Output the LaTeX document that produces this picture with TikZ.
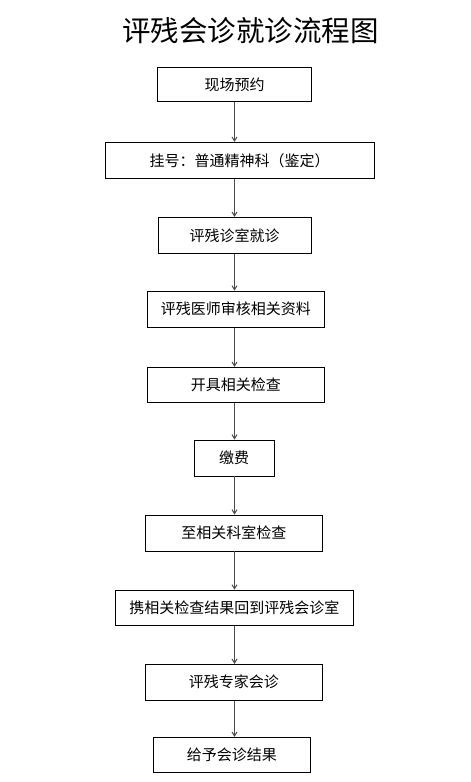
\documentclass[tikz,border=0pt]{standalone}
\usepackage{fontspec}
\newfontfamily\cjk{Noto Sans CJK SC}
\usetikzlibrary{arrows.meta}
\begin{document}
\begin{tikzpicture}[x=1pt,y=-1pt,
  box/.style={draw=black, line width=0.9pt, fill=white, inner sep=0pt, font=\cjk\fontsize{15}{17}\selectfont},
  flow/.style={draw=black!70, line width=1pt, -{Straight Barb[length=4pt,width=5pt]}}]
\useasboundingbox[fill=white] (0,0) rectangle (471,782);
\node[font=\cjk\fontsize{28.5}{31}\selectfont] (title) at (250.5,31) {评残会诊就诊流程图};
\node[box, minimum width=154pt, minimum height=34.5pt] (n1) at (234.5,84.5) {现场预约};
\node[box, minimum width=269pt, minimum height=36pt] (n2) at (239.5,160.3) {挂号：普通精神科（鉴定）};
\node[box, minimum width=153pt, minimum height=36pt] (n3) at (234.5,235.3) {评残诊室就诊};
\node[box, minimum width=177pt, minimum height=36.3pt] (n4) at (235.8,309.2) {评残医师审核相关资料};
\node[box, minimum width=177pt, minimum height=35pt] (n5) at (235.8,384.8) {开具相关检查};
\node[box, minimum width=80.3pt, minimum height=36pt] (n6) at (234.2,458) {缴费};
\node[box, minimum width=177pt, minimum height=36pt] (n7) at (233.8,533) {至相关科室检查};
\node[box, minimum width=238pt, minimum height=35.3pt] (n8) at (234.3,607.7) {携相关检查结果回到评残会诊室};
\node[box, minimum width=177pt, minimum height=35.7pt] (n9) at (233.8,682.2) {评残专家会诊};
\node[box, minimum width=157pt, minimum height=35.4pt] (n10) at (231.8,755) {给予会诊结果};
\coordinate (ax) at (234.5,0);
\foreach \a/\b in {n1/n2,n2/n3,n3/n4,n4/n5,n5/n6,n6/n7,n7/n8,n8/n9,n9/n10}
  \draw[flow] (ax |- \a.south) -- (ax |- \b.north);
\end{tikzpicture}
\end{document}
